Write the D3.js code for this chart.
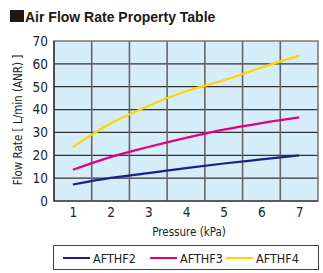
<!DOCTYPE html>
<html>
<head>
<meta charset="utf-8">
<script src="https://cdn.jsdelivr.net/npm/d3@7"></script>
<style>
body { margin: 0; background: #fff; }
text { font-family: "Liberation Sans Narrow", "DejaVu Sans Condensed", "Liberation Sans", sans-serif; fill: #222; }
.title { font-family: "Liberation Sans", Arial, sans-serif; font-weight: bold; }
</style>
</head>
<body>
<svg id="chart"></svg>
<script>
var pressure = [1, 2, 3, 4, 5, 6, 7];
var afthf2 = [7.2, 10.1, 12.2, 14.4, 16.4, 18.2, 20];
var afthf3 = [13.7, 19.2, 23.6, 27.6, 31.2, 34.1, 36.6];
var afthf4 = [23.6, 33.9, 41.6, 48, 52.8, 58.4, 63.6];
var yTicks = [0, 10, 20, 30, 40, 50, 60, 70];
var seriesNames = ["AFTHF2", "AFTHF3", "AFTHF4"];
var COLORS = {"AFTHF2": "#1d2088", "AFTHF3": "#e4007f", "AFTHF4": "#ffd400"};

var W = 323, H = 273;
var margin = {top: 41, right: 5, bottom: 72, left: 54},
    width = W - margin.left - margin.right,
    height = H - margin.top - margin.bottom;

var svg = d3.select("#chart").attr("width", W).attr("height", H);

// title
svg.append("rect").attr("x", 10).attr("y", 10).attr("width", 14).attr("height", 12).attr("fill", "#231815");
svg.append("text").attr("class", "title").attr("x", 25).attr("y", 21.5)
    .style("font-size", "14px").style("fill", "#231815")
    .text("Air Flow Rate Property Table");

var g = svg.append("g").attr("transform", "translate(" + margin.left + "," + margin.top + ")");

var xScale = d3.scaleLinear().domain([0.5, 7.5]).range([0, width]);
var yScale = d3.scaleLinear().domain([0, 70]).range([height, 0]);

g.append("rect").attr("width", width).attr("height", height).attr("fill", "#d5ecf9");

// horizontal grid
g.selectAll(".hgrid").data(yTicks.slice(1, -1)).enter().append("line")
    .attr("x1", 0).attr("x2", width)
    .attr("y1", function(d) { return yScale(d); })
    .attr("y2", function(d) { return yScale(d); })
    .attr("stroke", "#333").attr("stroke-width", 1.2);

// vertical grid between the ticks
g.selectAll(".vgrid").data(pressure.slice(0, -1)).enter().append("line")
    .attr("y1", 0).attr("y2", height)
    .attr("x1", function(d) { return xScale(d + 0.5); })
    .attr("x2", function(d) { return xScale(d + 0.5); })
    .attr("stroke", "#666").attr("stroke-width", 1.6);

g.append("rect").attr("width", width).attr("height", height)
    .attr("fill", "none").attr("stroke", "#777").attr("stroke-width", 1.5);
g.append("path").attr("d", "M0,0V" + height + "H" + width)
    .attr("fill", "none").attr("stroke", "#222").attr("stroke-width", 1.2);

// axes
var yAxis = g.append("g").call(d3.axisLeft(yScale).tickValues(yTicks).tickSize(0).tickPadding(6));
yAxis.select(".domain").remove();
yAxis.selectAll("text").style("font-size", "13.5px").attr("fill", "#222");

var xAxis = g.append("g").attr("transform", "translate(0," + height + ")")
    .call(d3.axisBottom(xScale).tickValues(pressure).tickFormat(d3.format("d")).tickSize(0).tickPadding(6));
xAxis.select(".domain").remove();
xAxis.selectAll("text").style("font-size", "13.5px").attr("fill", "#222");

svg.append("text").attr("x", margin.left + width / 2 + 3).attr("y", 236)
    .attr("text-anchor", "middle").style("font-size", "11.5px").text("Pressure (kPa)");

svg.append("text").attr("transform", "translate(22," + (margin.top + height / 2 - 1) + ") rotate(-90)")
    .attr("text-anchor", "middle").style("font-size", "11.5px").text("Flow Rate [ L/min (ANR) ]");

// lines
var line = d3.line()
    .x(function(d) { return xScale(d.x); })
    .y(function(d) { return yScale(d.y); })
    .curve(d3.curveMonotoneX);

var allSeries = [afthf2, afthf3, afthf4];
allSeries.forEach(function(vals, i) {
    var pts = vals.map(function(v, j) { return {x: pressure[j], y: v}; });
    g.append("path").datum(pts)
        .attr("d", line)
        .attr("fill", "none")
        .attr("stroke", COLORS[seriesNames[i]])
        .attr("stroke-width", 2.2);
});

// legend
var lg = svg.append("g");
lg.append("rect").attr("x", 53.5).attr("y", 245.5).attr("width", 265).attr("height", 24)
    .attr("fill", "#fff").attr("stroke", "#444").attr("stroke-width", 1);
var legX = [63, 150, 226];
seriesNames.forEach(function(name, i) {
    lg.append("line").attr("x1", legX[i]).attr("x2", legX[i] + 27)
        .attr("y1", 258).attr("y2", 258)
        .attr("stroke", COLORS[name]).attr("stroke-width", 2);
    lg.append("text").attr("x", legX[i] + 30).attr("y", 262.5)
        .style("font-size", "12.5px").text(name);
});
</script>
</body>
</html>
